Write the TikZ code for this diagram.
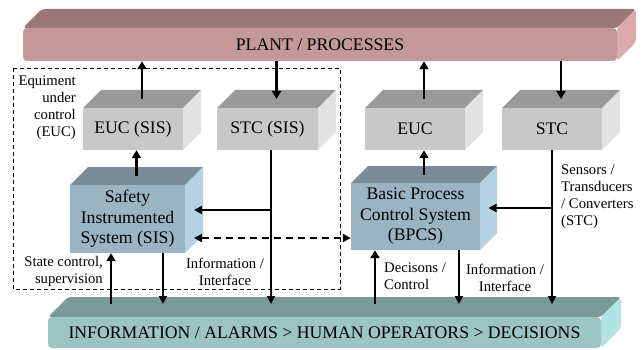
\documentclass[tikz,border=0pt]{standalone}
\usepackage{fontspec}
\setmainfont{Liberation Serif}
\usetikzlibrary{arrows.meta}
\definecolor{plantF}{HTML}{C39898}
\definecolor{plantT}{HTML}{9B7878}
\definecolor{plantS}{HTML}{DCAAAA}
\definecolor{grayF}{HTML}{C8C8C8}
\definecolor{grayT}{HTML}{999999}
\definecolor{grayS}{HTML}{E2E2E2}
\definecolor{blueF}{HTML}{9BB4C4}
\definecolor{blueT}{HTML}{7A8C98}
\definecolor{blueS}{HTML}{B4D2E4}
\definecolor{tealF}{HTML}{9BC4C2}
\definecolor{tealT}{HTML}{7A9A98}
\definecolor{tealS}{HTML}{B2E2E2}
\newcommand\boxfont{\fontsize{17.7}{20.5}\selectfont}
\newcommand\lblfont{\fontsize{14.7}{17}\selectfont}
% #1 name, #2 x1, #3 y1, #4 x2, #5 y2, #6 depth, #7 colour prefix, #8 text
\newcommand\boxcube[8]{%
  \fill[#7T] (#2,#3) -- ({#2+#6},{#3-#6}) -- ({#4+#6},{#3-#6}) -- (#4,#3) -- cycle;
  \fill[#7S] (#4,#3) -- ({#4+#6},{#3-#6}) -- ({#4+#6},{#5-#6}) -- (#4,#5) -- cycle;
  \pgfmathsetmacro\bw{#4-#2}\pgfmathsetmacro\bh{#5-#3}%
  \node[boxface, fill=#7F, minimum width=\bw pt, minimum height=\bh pt] (#1) at ({(#2+#4)/2},{(#3+#5)/2}) {#8};
  \coordinate (#1-top) at ({(#2+#4)/2+#6/2},{#3-#6/2});
  \coordinate (#1-side) at ({#4+#6/2},{(#3+#5)/2-#6/2});
}
\begin{document}
\begin{tikzpicture}[x=1pt,y=-1pt,
  boxface/.style={inner sep=0pt, align=center, font=\boxfont},
  barface/.style={rounded corners=4pt, inner sep=0pt, font=\boxfont},
  lbl/.style={inner sep=0pt, font=\lblfont},
  arr/.style={line width=2pt, -{Triangle[length=8pt,width=8pt]}},
  bigarr/.style={line width=2.6pt, -{Triangle[length=8pt,width=9pt]}},
  darr/.style={line width=2pt, dash pattern=on 7pt off 5pt, {Triangle[length=8pt,width=8pt]}-{Triangle[length=8pt,width=8pt]}},
  frame/.style={line width=0.8pt, dash pattern=on 4pt off 3pt}]
\useasboundingbox (0,0) rectangle (642,350);

% plant bar
\fill[plantT, rounded corners=3pt] (23,28) -- (42,9) -- (636,9) -- (617,28) -- cycle;
\fill[plantS, rounded corners=3pt] (617,28) -- (636,9) -- (636,42) -- (617,61) -- cycle;
\node[barface, fill=plantF, minimum width=594pt, minimum height=33pt] (plant) at (320,44.5) {PLANT / PROCESSES};

% bottom bar
\fill[tealT, rounded corners=3pt] (48,317) -- (68,297) -- (621,297) -- (601,317) -- cycle;
\fill[tealS, rounded corners=3pt] (601,317) -- (621,297) -- (621,328) -- (601,348) -- cycle;
\node[barface, fill=tealF, minimum width=553pt, minimum height=31pt] (bot) at (324.5,332.5) {INFORMATION / ALARMS > HUMAN OPERATORS > DECISIONS};
\coordinate (bottop) at (324.5,304);

% SIS frame
\draw[frame] (13,68) rectangle (340,289);

% boxes
\boxcube{eucsis}{83}{108}{183}{150}{18}{gray}{EUC (SIS)}
\boxcube{stcsis}{217}{108}{318}{150}{18}{gray}{STC (SIS)}
\boxcube{euc}{365}{108}{465}{150}{18}{gray}{EUC}
\boxcube{stc}{502}{108}{602}{150}{18}{gray}{STC}
\boxcube{sis}{70}{185}{185}{253}{18}{blue}{Safety\\Instrumented\\System (SIS)}
\boxcube{bpcs}{351}{183}{480}{250}{17}{blue}{Basic Process\\Control System\\(BPCS)}

% connectors to / from plant
\draw[bigarr] (eucsis-top) -- (eucsis-top |- plant.south);
\draw[bigarr] (plant.south -| stcsis-top) -- (stcsis-top);
\draw[bigarr] (euc-top) -- (euc-top |- plant.south);
\draw[bigarr] (plant.south -| stc-top) -- (stc-top);
\draw[bigarr] (sis-top) -- (sis-top |- eucsis.south);
\draw[bigarr] (bpcs-top) -- (bpcs-top |- euc.south);

% sensor lines
\coordinate (stcsisout) at ([xshift=3.5pt]stcsis.south);
\draw[arr] (stcsisout) -- (stcsisout |- bottop);
\draw[arr] (stcsisout |- sis-side) -- (sis-side);
\draw[arr] (stc.south) -- (stc.south |- bottop);
\draw[arr] (stc.south |- bpcs-side) -- (bpcs-side);

% dashed link
\coordinate (dashL) at ([yshift=-28pt]sis-side);
\draw[darr] (dashL) -- (dashL -| bpcs.west);

% links to bottom bar
\draw[bigarr] ([xshift=-16.5pt]sis.south |- bottop) -- ([xshift=-16.5pt]sis.south);
\draw[arr] ([xshift=35.5pt]sis.south) -- ([xshift=35.5pt]sis.south |- bottop);
\draw[bigarr] ([xshift=-40.5pt]bpcs.south |- bottop) -- ([xshift=-40.5pt]bpcs.south);
\draw[arr] ([xshift=43.5pt]bpcs.south) -- ([xshift=43.5pt]bpcs.south |- bottop);

% labels
\node[lbl, anchor=east, align=right] (euclbl) at (76,107.5) {Equiment\\under\\control\\(EUC)};
\node[lbl, anchor=east, align=right] (statelbl) at (103,271.5) {State control,\\supervision};
\node[lbl, align=center] (infolbl1) at (225,271.5) {Information /\\Interface};
\node[lbl, anchor=west, align=left] (declbl) at (384,276) {Decisons /\\Control};
\node[lbl, align=center] (infolbl2) at (505,277.5) {Information /\\Interface};
\node[lbl, anchor=west, align=left] (senslbl) at (561,196.5) {Sensors /\\Transducers\\/ Converters\\(STC)};
\end{tikzpicture}
\end{document}
